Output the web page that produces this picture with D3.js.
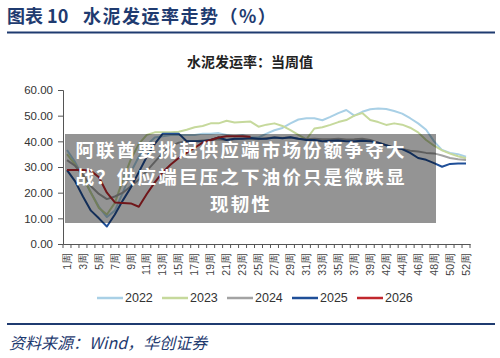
<!DOCTYPE html>
<html>
<head>
<meta charset="utf-8">
<script src="https://cdn.jsdelivr.net/npm/d3@7"></script>
<style>
  body { margin: 0; background: #fff; }
  svg { display: block; }
</style>
</head>
<body>
<div id="chart"></div>
<script>
// week categories (week 40 is not in the source series)
var weeks = [1,2,3,4,5,6,7,8,9,10,11,12,13,14,15,16,17,18,19,20,
  21,22,23,24,25,26,27,28,29,30,31,32,33,34,35,36,37,38,39,41,
  42,43,44,45,46,47,48,49,50,51,52];
var yTicks = [0, 10, 20, 30, 40, 50, 60];
var years = ["2022", "2023", "2024", "2025", "2026"];

var v2022 = [36.6,32,26,20,14.5,10.5,13,20,28,34,38.5,41.5,42,42.5,42.5,42.5,42.5,43,43,43.2,
  42.5,42,42.5,41.5,41.5,43,44.3,45.2,47,48.5,49,49,48.2,49.5,51,52.2,50,51.5,52.5,52.8,
  52.6,51.8,50.8,49,47,44.5,40,36.6,35.5,35,34];
var v2023 = [35,31,26,20,14,11.5,16,25,33,39,42.5,43.5,43.5,43.5,43.7,44.5,45.5,46,47,47,
  48,47.3,47.5,47.7,45.7,46.5,47,46,44.4,42.5,40.8,45,45.5,46.4,47.5,48.3,50,51,48.3,47.5,
  46.4,47,46.5,45.3,43.5,40.5,38.3,36.5,35.2,34.2,33.4];
var v2024 = [32.7,30.5,27,22.5,19.5,17.5,18.5,20,22.5,25,28.5,32,35.5,38,39.5,40,40,40.3,40.5,40.8,
  40.5,40.8,41,41,40.8,41.2,41.5,41.3,41.5,41,40.8,41,40.8,40.8,41,40.7,40.8,41,40.5,39.5,
  38.5,37.5,37,36.3,36,35.5,35.3,34.5,33.5,33,32.7];
var v2025 = [28.8,24.5,18.5,13,10,6.8,11.5,17,22,28,34,39,43,43,43,40,40,40,40.5,41.5,
  40.5,41,41,41.3,41,41,41.5,41.2,41.6,41,40.5,40.5,40,40.2,40.3,40,40,40.2,40,39.5,
  38.5,37.5,37,35.5,33.5,32.8,31.5,30.1,31.2,31.4,31.4];
var v2026 = [28.8,28.8,28.8,28.5,26,20,16.2,16,15.8,14.5,19.5,24,28,31,33.5,35.5,37.5,39.5,40.5,41.5,
  42,42,42,41.8];

var seriesValues = [v2022, v2023, v2024, v2025, v2026];
var colors = ["#a9d0e6", "#c6d99c", "#a3a3a3", "#1f4f98", "#c1272d"];

var svgWidth = 500;
var svgHeight = 358;
var navy = "#1f3b70";

var svg = d3.select("#chart")
  .append("svg")
  .attr("width", svgWidth)
  .attr("height", svgHeight);

// header
svg.append("text")
  .attr("x", 7)
  .attr("y", 23)
  .attr("fill", navy)
  .style("font-family", "'Noto Sans CJK SC'")
  .style("font-weight", "bold")
  .style("font-size", "18px")
  .text("图表 10");

svg.append("text")
  .attr("x", 83)
  .attr("y", 23)
  .attr("fill", navy)
  .style("font-family", "'Noto Sans CJK SC'")
  .style("font-weight", "bold")
  .style("font-size", "18px")
  .style("letter-spacing", "1.5px")
  .text("水泥发运率走势（%）");

svg.append("line")
  .attr("x1", 7).attr("x2", 495)
  .attr("y1", 32.5).attr("y2", 32.5)
  .attr("stroke", navy)
  .attr("stroke-width", 2);

svg.append("text")
  .attr("x", 250)
  .attr("y", 67)
  .attr("text-anchor", "middle")
  .attr("fill", "#222")
  .style("font-family", "'Noto Sans CJK SC'")
  .style("font-weight", "bold")
  .style("font-size", "14px")
  .text("水泥发运率：当周值");

// scales
var x = d3.scaleBand().domain(weeks).range([63, 470]);
var y = d3.scaleLinear().domain([0, 60]).range([244, 90]);
var bw = x.bandwidth();

var leftAxis = d3.axisLeft(y)
  .tickValues(yTicks)
  .tickSize(5)
  .tickFormat(d3.format(".2f"));

var gy = svg.append("g")
  .attr("transform", "translate(63,0)")
  .call(leftAxis);
gy.select(".domain").attr("stroke", "#555");
gy.selectAll(".tick line").attr("stroke", "#555");
gy.selectAll(".tick text")
  .attr("x", -10)
  .attr("fill", "#333")
  .style("font-family", "'Liberation Sans', Arial")
  .style("font-size", "11.5px");

// x axis: labels every other category, ticks at every boundary
var bottomAxis = d3.axisBottom(x)
  .tickValues(weeks.filter(function(d, i) { return i % 2 === 0; }))
  .tickSize(0)
  .tickFormat(function(d) { return d + "周"; });

var gx = svg.append("g")
  .attr("transform", "translate(0,244)")
  .call(bottomAxis);
gx.select(".domain").attr("stroke", "#555");
gx.selectAll(".tick text")
  .attr("transform", "rotate(-90)")
  .attr("x", -9)
  .attr("y", 0)
  .attr("dy", "0.35em")
  .attr("text-anchor", "end")
  .attr("fill", "#444")
  .style("font-family", "'Liberation Sans', Arial")
  .style("font-size", "10.5px");

svg.append("g").selectAll("line")
  .data(weeks.concat(["end"]))
  .enter()
  .append("line")
  .attr("x1", function(d, i) { return i < weeks.length ? x(d) : x(weeks[weeks.length - 1]) + bw; })
  .attr("x2", function(d, i) { return i < weeks.length ? x(d) : x(weeks[weeks.length - 1]) + bw; })
  .attr("y1", 244)
  .attr("y2", 248)
  .attr("stroke", "#555");

// lines
var line = d3.line()
  .x(function(d, i) { return x(weeks[i]) + bw / 2; })
  .y(function(d) { return y(d); });

svg.append("g").selectAll("path")
  .data(seriesValues)
  .enter()
  .append("path")
  .attr("d", line)
  .attr("fill", "none")
  .attr("stroke", function(d, i) { return colors[i]; })
  .attr("stroke-width", 2)
  .attr("stroke-linejoin", "round");

// legend
var legend = svg.append("g").selectAll("g")
  .data(years)
  .enter()
  .append("g")
  .attr("transform", function(d, i) { return "translate(" + (97 + i * 65) + ",298)"; });

legend.append("line")
  .attr("x1", 0).attr("x2", 26)
  .attr("stroke", function(d, i) { return colors[i]; })
  .attr("stroke-width", 2.5);

legend.append("text")
  .attr("x", 28)
  .attr("dy", "0.35em")
  .attr("fill", "#333")
  .style("font-family", "'Liberation Sans', Arial")
  .style("font-size", "12.5px")
  .text(function(d) { return d; });

// footer
svg.append("line")
  .attr("x1", 7).attr("x2", 495)
  .attr("y1", 324).attr("y2", 324)
  .attr("stroke", navy)
  .attr("stroke-width", 2);

svg.append("text")
  .attr("x", 9)
  .attr("y", 349)
  .attr("fill", navy)
  .style("font-family", "'Noto Sans CJK SC'")
  .style("font-style", "italic")
  .style("font-size", "16px")
  .text("资料来源：Wind，华创证券");

// headline overlay
svg.append("rect")
  .attr("x", 65).attr("y", 134)
  .attr("width", 371).attr("height", 89)
  .attr("fill", "rgba(0,0,0,0.42)");

var headline = ["阿联酋要挑起供应端市场份额争夺大", "战？供应端巨压之下油价只是微跌显", "现韧性"];
svg.append("g").selectAll("text")
  .data(headline)
  .enter()
  .append("text")
  .attr("x", 241)
  .attr("y", function(d, i) { return 157 + i * 27; })
  .attr("text-anchor", "middle")
  .attr("fill", "#fff")
  .style("font-family", "'Noto Sans CJK SC'")
  .style("font-weight", "bold")
  .style("font-size", "18.5px")
  .style("letter-spacing", "2.2px")
  .text(function(d) { return d; });
</script>
</body>
</html>
